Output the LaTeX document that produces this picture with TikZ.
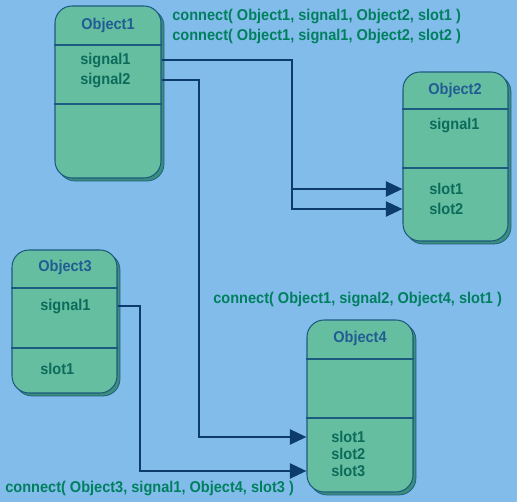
\documentclass[tikz,border=0pt]{standalone}
\usepackage{fontspec}
\setmainfont[FakeStretch=0.93]{Liberation Sans}
\usetikzlibrary{arrows.meta,shadows}
\definecolor{bgblue}{HTML}{82BCEA}
\definecolor{objfill}{HTML}{66BEA0}
\definecolor{objshade}{HTML}{3A8E7C}
\definecolor{objline}{HTML}{1D5A80}
\definecolor{wirecol}{HTML}{0B3C6C}
\definecolor{titleblue}{HTML}{215C94}
\definecolor{membergreen}{HTML}{0C6B5A}
\definecolor{callgreen}{HTML}{00805F}
\begin{document}
\begin{tikzpicture}[x=0.02cm, y=-0.02cm,
  every node/.style={font=\fontsize{8.9}{10}\selectfont\bfseries, inner sep=0pt},
  obj/.style={draw=objline, fill=objfill, line width=0.6pt, rounded corners=0.34cm,
    general shadow={shadow xshift=0.06cm, shadow yshift=-0.06cm, fill=objshade, draw=objline, line width=0.4pt}},
  objtitle/.style={text=titleblue},
  member/.style={anchor=west, text=membergreen},
  call/.style={anchor=west, text=callgreen},
  sep/.style={draw=objline, line width=0.6pt},
  wire/.style={draw=wirecol, line width=1.6pt, -{Triangle[length=9.5pt, width=8.5pt]}}]
  \fill[bgblue] (0,0) rectangle (517,502);
  \useasboundingbox (0,0) rectangle (517,502);

  % objects
  \node[obj, minimum width=2.12cm, minimum height=3.44cm] (o1) at (108,92) {};
  \node[obj, minimum width=2.10cm, minimum height=3.38cm] (o2) at (455.5,156.5) {};
  \node[obj, minimum width=2.10cm, minimum height=2.86cm] (o3) at (64.5,321.5) {};
  \node[obj, minimum width=2.12cm, minimum height=3.44cm] (o4) at (360,406) {};

  \draw[sep] (o1.west |- 0,45) -- (o1.east |- 0,45);
  \draw[sep] (o1.west |- 0,104) -- (o1.east |- 0,104);
  \draw[sep] (o2.west |- 0,109) -- (o2.east |- 0,109);
  \draw[sep] (o2.west |- 0,168) -- (o2.east |- 0,168);
  \draw[sep] (o3.west |- 0,288) -- (o3.east |- 0,288);
  \draw[sep] (o3.west |- 0,348) -- (o3.east |- 0,348);
  \draw[sep] (o4.west |- 0,359) -- (o4.east |- 0,359);
  \draw[sep] (o4.west |- 0,418) -- (o4.east |- 0,418);

  % titles and members
  \node[objtitle] (o1name) at (108,25) {Object1};
  \node[member] (o1sig1) at (80,60) {signal1};
  \node[member] (o1sig2) at (80,80) {signal2};

  \node[objtitle] (o2name) at (455,90) {Object2};
  \node[member] (o2sig1) at (429,125) {signal1};
  \node[member] (o2slot1) at (429,189) {slot1};
  \node[member] (o2slot2) at (429,209) {slot2};

  \node[objtitle] (o3name) at (65,267) {Object3};
  \node[member] (o3sig1) at (40,306) {signal1};
  \node[member] (o3slot1) at (40,369) {slot1};

  \node[objtitle] (o4name) at (360,338) {Object4};
  \node[member] (o4slot1) at (331,437) {slot1};
  \node[member] (o4slot2) at (331,454) {slot2};
  \node[member] (o4slot3) at (331,471) {slot3};

  % connect calls
  \node[call] (c1) at (172,16) {connect( Object1, signal1, Object2, slot1 )};
  \node[call] (c2) at (172,36) {connect( Object1, signal1, Object2, slot2 )};
  \node[call] (c3) at (213,299) {connect( Object1, signal2, Object4, slot1 )};
  \node[call] (c4) at (5,488) {connect( Object3, signal1, Object4, slot3 )};

  % wires
  \coordinate (bend1) at (292,0);
  \coordinate (bend2) at (199,0);
  \coordinate (bend3) at (140,0);
  \draw[wire] (o1.east |- o1sig1) -| (bend1 |- o2slot1) -- (o2.west |- o2slot1);
  \draw[wire] (o1.east |- o1sig1) -| (bend1 |- o2slot2) -- (o2.west |- o2slot2);
  \draw[wire] (o1.east |- o1sig2) -| (bend2 |- o4slot1) -- (o4.west |- o4slot1);
  \draw[wire] (o3.east |- o3sig1) -| (bend3 |- o4slot3) -- (o4.west |- o4slot3);
\end{tikzpicture}
\end{document}
